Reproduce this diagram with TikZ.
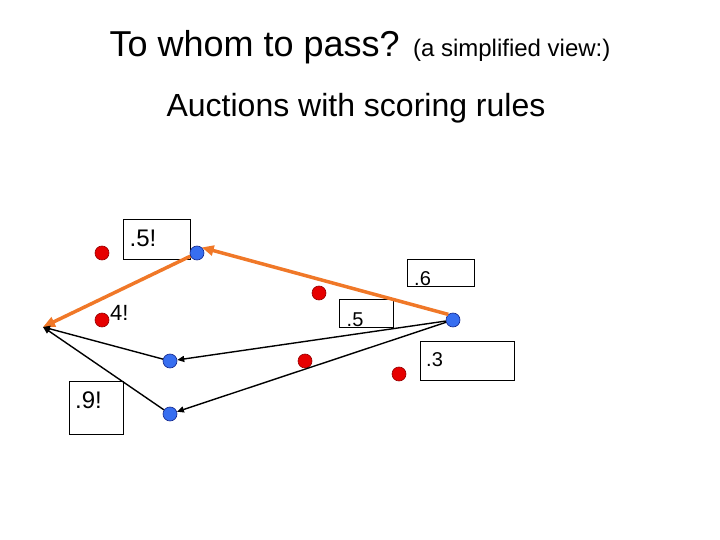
\documentclass[tikz,border=0pt]{standalone}
\usepackage{fontspec}
\setmainfont{Liberation Sans}
\usetikzlibrary{arrows.meta}

\tikzset{
  reddot/.style={circle,inner sep=0pt,minimum size=14pt,fill={rgb,255:red,230;green,0;blue,0},draw={rgb,255:red,150;green,0;blue,0},line width=0.6pt},
  bluedot/.style={circle,inner sep=0pt,minimum size=14pt,fill={rgb,255:red,55;green,110;blue,240},draw={rgb,255:red,20;green,40;blue,140},line width=0.6pt},
  scorebox/.style={draw,line width=0.8pt,inner sep=0pt,anchor=north west},
  scoretext/.style={anchor=base west,inner sep=0pt,font=\fontsize{20}{22}\selectfont},
  bigscore/.style={scoretext,font=\fontsize{24}{26}\selectfont},
  passarrow/.style={draw={rgb,255:red,240;green,120;blue,40},line width=3.5pt,-{Triangle[length=12pt,width=10pt]}},
  bidarrow/.style={draw=black,line width=1.4pt,-{Triangle[length=7pt,width=6pt]}}
}

\begin{document}
\begin{tikzpicture}[x=1pt,y=1pt,yscale=-1,xscale=1]
    \useasboundingbox (0,0) rectangle (720,540);

    % Titles
    \node (title) [anchor=base,inner sep=0pt] at (360,57) {\fontsize{36}{40}\selectfont To whom to pass? \fontsize{24}{28}\selectfont(a simplified view:)};
    \node (subtitle) [anchor=base,inner sep=0pt] at (356,117) {\fontsize{32}{36}\selectfont Auctions with scoring rules};

    % Score boxes
    \node (box1) [scorebox,minimum width=67pt,minimum height=40pt] at (123,219) {};
    \node (box2) [scorebox,minimum width=67pt,minimum height=27pt] at (407,259) {};
    \node (box3) [scorebox,minimum width=54pt,minimum height=28pt] at (339,299) {};
    \node (box4) [scorebox,minimum width=94pt,minimum height=39pt] at (420,341) {};
    \node (box5) [scorebox,minimum width=54pt,minimum height=53pt] at (69,381) {};

    % Score texts
    \node (t1) [bigscore] at (129.5,246.7) {.5!};
    \node (t2) [scoretext] at (414,285.7) {.6};
    \node (t3) [scoretext] at (346.5,326.7) {.5};
    \node (t4) [scoretext] at (426,366) {.3};
    \node (t5) [bigscore] at (75,408) {.9!};
    \node (t6) [scoretext,font=\fontsize{22}{24}\selectfont] at (110,320.7) {4!};

    % Red players
    \node (r1) [reddot] at (102,253) {};
    \node (r2) [reddot] at (102,320) {};
    \node (r3) [reddot] at (319,293) {};
    \node (r4) [reddot] at (305,361) {};
    \node (r5) [reddot] at (399,374) {};

    % Blue players
    \node (b1) [bluedot] at (197,253) {};
    \node (b2) [bluedot] at (453,320) {};
    \node (b3) [bluedot] at (170,361) {};
    \node (b4) [bluedot] at (170,414) {};

    \coordinate (goal) at (43,327);

    % Passes
    \draw [passarrow] (b2.130) -- (b1.50);
    \draw [passarrow] (b1) -- (goal);

    % Other bids
    \draw [bidarrow] (b2) -- (b3);
    \draw [bidarrow] (b2) -- (b4);
    \draw [bidarrow] (b3) -- (goal);
    \draw [bidarrow] (b4) -- (goal);
\end{tikzpicture}
\end{document}
